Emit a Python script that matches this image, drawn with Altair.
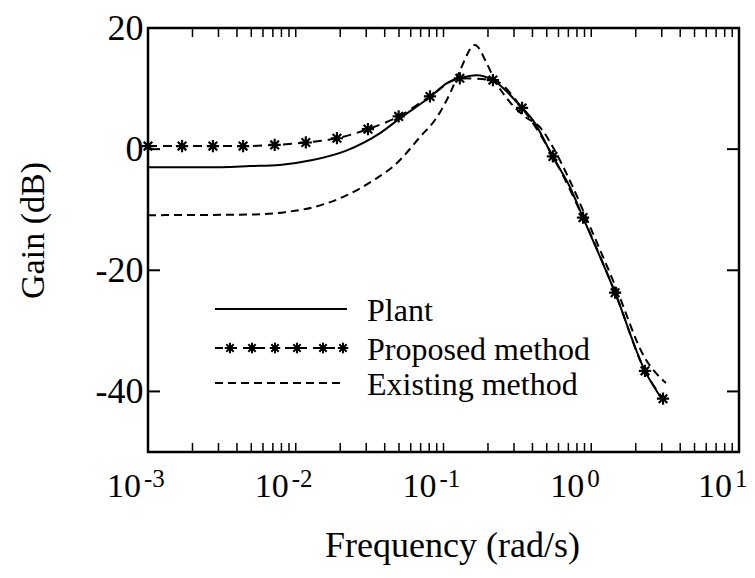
import altair as alt
import pandas as pd

# ---------------- data ----------------
plant_freq = [0.001, 0.0025, 0.0049, 0.0078, 0.013, 0.0222, 0.037, 0.0508, 0.081,
              0.1057, 0.129, 0.168, 0.216, 0.34, 0.403, 0.55, 0.718, 0.88, 1.45, 2.31, 3.06]
plant_gain = [-3.0, -3.0, -2.8, -2.6, -1.8, -0.2, 2.6, 5.1, 8.6,
              10.9, 11.7, 12.2, 11.4, 6.8, 4.8, -1.3, -6.3, -11.3, -23.7, -36.6, -41.5]

prop_freq = [0.001, 0.0017, 0.00275, 0.0044, 0.0072, 0.0117, 0.019, 0.0308, 0.0497,
             0.081, 0.129, 0.216, 0.34, 0.55, 0.88, 1.45, 2.31, 3.06]
prop_gain = [0.5, 0.5, 0.5, 0.5, 0.7, 1.1, 1.8, 3.3, 5.4,
             8.7, 11.7, 11.4, 6.8, -1.2, -11.3, -23.7, -36.6, -41.2]

exist_freq = [0.001, 0.0049, 0.00845, 0.0131, 0.0222, 0.0333, 0.0484, 0.0693, 0.0904,
              0.1107, 0.1294, 0.163, 0.196, 0.222, 0.268, 0.346, 0.465, 0.542, 0.72,
              0.95, 1.45, 2.31, 3.2]
exist_gain = [-10.9, -10.8, -10.4, -9.6, -7.6, -5.2, -2.3, 2.0, 5.3,
              9.2, 13.0, 17.2, 14.2, 11.4, 8.4, 5.6, 3.2, 0.6, -5.3,
              -12.0, -22.5, -34.5, -38.6]

minor_ticks = [0.002, 0.003, 0.004, 0.005, 0.006, 0.007, 0.008, 0.009,
               0.01, 0.02, 0.03, 0.04, 0.05, 0.06, 0.07, 0.08, 0.09,
               0.1, 0.2, 0.3, 0.4, 0.5, 0.6, 0.7, 0.8, 0.9,
               1, 2, 3, 4, 5, 6, 7, 8, 9]
decade_vals = [0.001, 0.01, 0.1, 1, 10]
decade_base = ["10", "10", "10", "10", "10"]
decade_exp = ["-3", "-2", "-1", "0", "1"]
gain_ticks = [-40, -20, 0, 20]
legend_labels = ["Plant", "Proposed method", "Existing method"]
legend_star_px = [82, 104, 127, 149, 175, 195]

# ---------------- layout ----------------
W, H = 591, 424
FONT = "Liberation Serif"
STAR = "M0,-1L0,1M-1,0L1,0M-0.7,-0.7L0.7,0.7M-0.7,0.7L0.7,-0.7"

xs = alt.Scale(type="log", domain=[0.001, 10], nice=False)
ys = alt.Scale(domain=[-50, 20], nice=False)

xaxis = alt.Axis(title="Frequency (rad/s)", labels=False, ticks=False, domain=False, grid=False,
                 titleFont=FONT, titleFontSize=36, titleFontWeight="normal", titleColor="black",
                 titleY=104, titleBaseline="alphabetic", titleX=304)
yaxis = alt.Axis(title="Gain (dB)", values=gain_ticks, ticks=False, tickSize=0, domain=False, grid=False,
                 labelFont=FONT, labelFontSize=36, labelColor="black", labelPadding=5,
                 labelExpr="'' + datum.value",
                 titleFont=FONT, titleFontSize=34, titleFontWeight="normal", titleColor="black",
                 titleAngle=270, titleX=-115, titleY=202, titleAlign="center", titleBaseline="middle")

plant_df = pd.DataFrame({"f": plant_freq, "g": plant_gain})
prop_df = pd.DataFrame({"f": prop_freq, "g": prop_gain})
exist_df = pd.DataFrame({"f": exist_freq, "g": exist_gain})
tick_df = pd.DataFrame({"f": minor_ticks})
dec_df = pd.DataFrame({"f": decade_vals, "b": decade_base, "e": decade_exp})
ytick_df = pd.DataFrame({"g": gain_ticks})
one_df = pd.DataFrame({"k": [0]})

X = lambda: alt.X("f:Q", scale=xs, axis=xaxis)
Y = lambda: alt.Y("g:Q", scale=ys, axis=yaxis)

plant = alt.Chart(plant_df).mark_line(color="black", strokeWidth=2, interpolate="monotone").encode(
    x=X(), y=Y())
exist = alt.Chart(exist_df).mark_line(color="black", strokeWidth=2, strokeDash=[8, 5],
                                      interpolate="monotone").encode(x=X(), y=Y())
prop = alt.Chart(prop_df).mark_line(color="black", strokeWidth=2, strokeDash=[9, 6],
                                    interpolate="monotone").encode(x=X(), y=Y())
prop_pts = alt.Chart(prop_df).mark_point(shape=STAR, filled=False, color="black", size=150,
                                         strokeWidth=2.2, opacity=1).encode(x=X(), y=Y())

tick_bot = alt.Chart(tick_df).mark_rule(color="black", strokeWidth=1.5).encode(
    x=X(), y=alt.value(H), y2=alt.value(H - 9))
tick_top = alt.Chart(tick_df).mark_rule(color="black", strokeWidth=1.5).encode(
    x=X(), y=alt.value(0), y2=alt.value(9))
ytick_l = alt.Chart(ytick_df).mark_rule(color="black", strokeWidth=2).encode(
    y=Y(), x=alt.value(0), x2=alt.value(12))
ytick_r = alt.Chart(ytick_df).mark_rule(color="black", strokeWidth=2).encode(
    y=Y(), x=alt.value(W), x2=alt.value(W - 12))

lab_base = alt.Chart(dec_df).mark_text(font=FONT, fontSize=34, color="black", align="right",
                                       baseline="alphabetic", dx=-7).encode(
    x=X(), y=alt.value(H + 45), text="b:N")
lab_exp = alt.Chart(dec_df).mark_text(font=FONT, fontSize=25, color="black", align="left",
                                      baseline="alphabetic", dx=-4).encode(
    x=X(), y=alt.value(H + 35), text="e:N")

# legend (drawn inside the plot)
leg_y = [281, 320, 355]
leg_layers = [
    alt.Chart(one_df).mark_rule(color="black", strokeWidth=2).encode(
        x=alt.value(67), x2=alt.value(199), y=alt.value(leg_y[0])),
    alt.Chart(one_df).mark_rule(color="black", strokeWidth=2, strokeDash=[8, 6]).encode(
        x=alt.value(67), x2=alt.value(199), y=alt.value(leg_y[1])),
    alt.Chart(one_df).mark_rule(color="black", strokeWidth=2, strokeDash=[8, 5]).encode(
        x=alt.value(67), x2=alt.value(194), y=alt.value(leg_y[2])),
]
for px in legend_star_px:
    leg_layers.append(
        alt.Chart(one_df).mark_point(shape=STAR, filled=False, color="black", size=110,
                                     strokeWidth=2, opacity=1).encode(
            x=alt.value(px), y=alt.value(leg_y[1])))
for lbl, ly in zip(legend_labels, leg_y):
    leg_layers.append(
        alt.Chart(one_df).mark_text(font=FONT, fontSize=32, color="black", align="left",
                                    baseline="alphabetic", text=lbl).encode(
            x=alt.value(219), y=alt.value(ly + 12)))

chart = alt.layer(plant, exist, prop, prop_pts, tick_bot, tick_top, ytick_l, ytick_r,
                  lab_base, lab_exp, *leg_layers).properties(
    width=W, height=H,
    autosize=alt.AutoSizeParams(type="none"),
    padding={"left": 140, "top": 20, "right": 8, "bottom": 118},
    background="white",
).configure_view(stroke="black", strokeWidth=2.5)

chart.save("out.html", embed_options={"renderer": "svg", "actions": False})
